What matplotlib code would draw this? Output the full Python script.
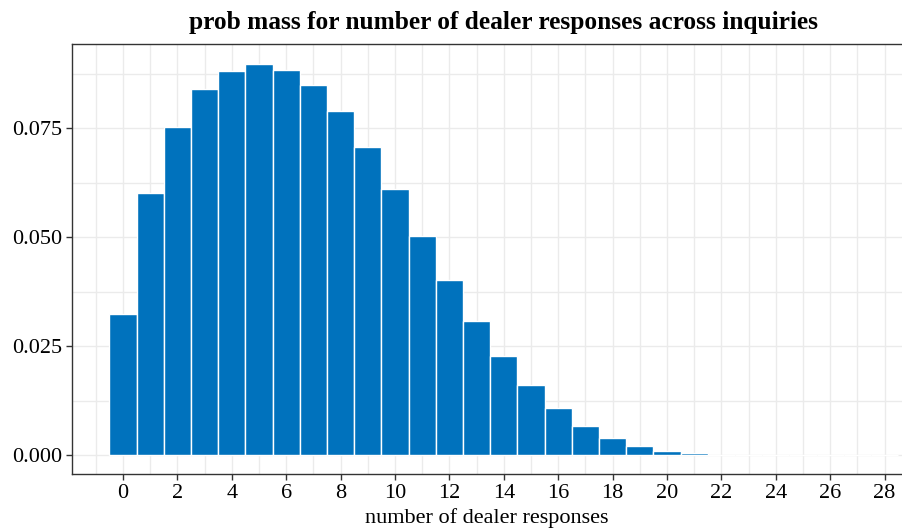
import matplotlib
matplotlib.use("Agg")
import matplotlib.pyplot as plt
import numpy as np

plt.rcParams['font.family'] = ['Liberation Serif', 'DejaVu Serif']

# number of dealer responses and the prob mass
responses = list(range(29))
probMass = [0.0323, 0.0601, 0.0752, 0.0839, 0.0881, 0.0897, 0.0883, 0.0849,
            0.0789, 0.0706, 0.0610, 0.0502, 0.0401, 0.0307, 0.0227, 0.0161,
            0.0108, 0.0067, 0.0039, 0.0021, 0.0009, 0.0004, 0.0001, 0.00005,
            0.00002, 0.00001, 0.0, 0.0, 0.0]
xTicks = list(range(0, 29, 2))
yTicks = [0.0, 0.025, 0.05, 0.075]

fig = plt.figure(figsize=(9.02, 5.31), dpi=100)
ax = fig.add_axes([72/902, 1 - 474/531, 1 - 72/902, (474 - 44)/531])

ax.bar(responses, probMass, width=1.0, color='#0072BD', edgecolor='white',
       linewidth=1.0, zorder=3)

ax.set_xlim(-1.875, 28.64)
ax.set_ylim(-0.00436, 0.0943)

ax.set_xticks(xTicks)
ax.set_xticks(np.arange(-1, 29, 1), minor=True)
ax.set_yticks(yTicks)
ax.set_yticks(np.arange(0, 0.095, 0.0125), minor=True)
ax.set_yticklabels(['%.3f' % v for v in yTicks])

ax.grid(True, which='both', color='#ebebeb', linewidth=1.0, zorder=0)
ax.tick_params(which='minor', length=0)
ax.tick_params(which='major', direction='out', length=4, width=1,
               color='#333333', labelsize=16, pad=3)

for s in ['left', 'bottom', 'top']:
    ax.spines[s].set_color('#333333')
    ax.spines[s].set_linewidth(1.0)
ax.spines['right'].set_visible(False)

ax.set_xlabel('number of dealer responses', fontsize=16, labelpad=4)
ax.set_title('prob mass for number of dealer responses across inquiries',
             fontsize=18.3, fontweight='bold', x=0.52, pad=11)

fig.savefig('out.png', dpi=100)
